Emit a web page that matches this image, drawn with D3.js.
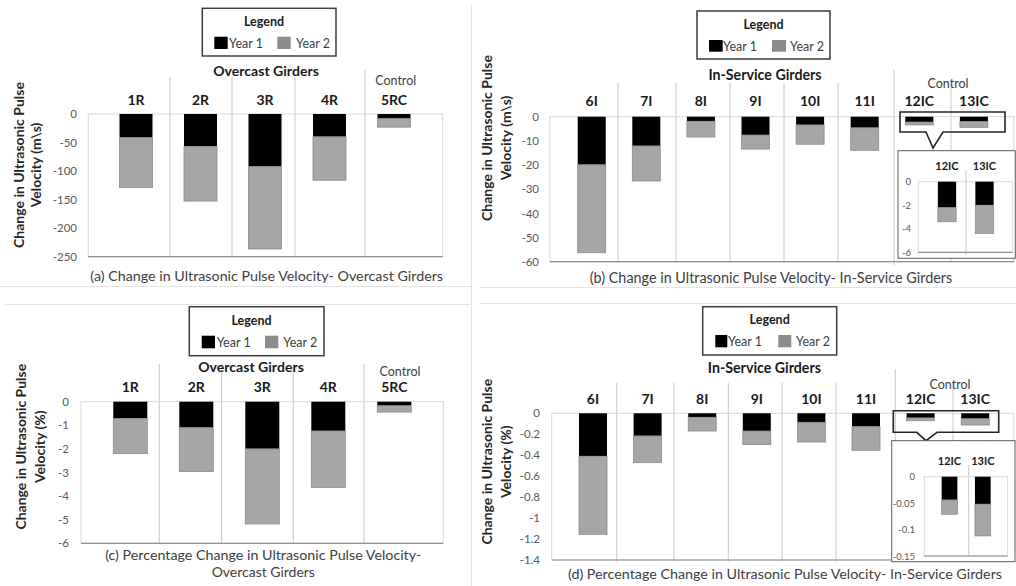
<!DOCTYPE html>
<html><head><meta charset="utf-8">
<script src="https://cdn.jsdelivr.net/npm/d3@7"></script>
<style>html,body{margin:0;padding:0;background:#fff;}svg{display:block;}</style>
</head><body>
<svg id="chart" width="1016" height="586"></svg>
<script>
// ---------------- DATA ----------------
const seriesNames = ["Year 1", "Year 2"];
const overcastCategories = ["1R", "2R", "3R", "4R", "5RC"];
const overcastUPVYear1 = [-41.5, -57, -92, -40, -8];
const overcastUPVYear2 = [-87.5, -95.5, -144.5, -76, -15];
const overcastPctYear1 = [-0.71, -1.1, -2.0, -1.24, -0.17];
const overcastPctYear2 = [-1.49, -1.86, -3.18, -2.39, -0.27];
const inServiceCategories = ["6I", "7I", "8I", "9I", "10I", "11I", "12IC", "13IC"];
const inServiceUPVYear1 = [-19.9, -12.1, -1.9, -7.6, -3.4, -4.6, -2.2, -2.0];
const inServiceUPVYear2 = [-36.4, -14.5, -6.5, -5.8, -8.0, -9.3, -1.2, -2.4];
const inServicePctYear1 = [-0.41, -0.216, -0.038, -0.169, -0.086, -0.127, -0.044, -0.052];
const inServicePctYear2 = [-0.745, -0.255, -0.131, -0.13, -0.188, -0.226, -0.027, -0.06];
const controlInServiceCategories = ["12IC", "13IC"];
const overcastUPVTicks = [0, -50, -100, -150, -200, -250];
const inServiceUPVTicks = [0, -10, -20, -30, -40, -50, -60];
const overcastPctTicks = [0, -1, -2, -3, -4, -5, -6];
const inServicePctTicks = [0, -0.2, -0.4, -0.6, -0.8, -1, -1.2, -1.4];
const insetUPVTicks = [0, -2, -4, -6];
const insetPctTicks = [0, -0.05, -0.1, -0.15];

// ---------------- STYLE ----------------
const FONT = "Lato, 'Open Sans', sans-serif";
const COLORS = ["#000000", "#a6a6a6"];
const SWATCH = ["#000000", "#8c8c8c"];
const svg = d3.select("#chart");

function fit(sel, w) {
  const L = sel.node().getComputedTextLength();
  const fs = parseFloat(sel.attr("font-size"));
  if (L > 0) sel.attr("font-size", fs * w / L);
  return sel;
}
function txt(g, s, x, y, size, opts = {}) {
  return g.append("text").attr("x", x).attr("y", y).text(s)
    .attr("font-family", FONT).attr("font-size", size)
    .attr("font-weight", opts.bold ? "bold" : "normal")
    .attr("fill", opts.fill || "#262626")
    .attr("text-anchor", opts.anchor || "middle")
    .attr("dominant-baseline", "central");
}

// faint panel separators
const sep = svg.append("g").attr("stroke", "#e4e4e4").attr("stroke-width", 1);
sep.append("line").attr("x1", 471.5).attr("x2", 471.5).attr("y1", 5).attr("y2", 586);
sep.append("line").attr("x1", 0).attr("x2", 471).attr("y1", 286.5).attr("y2", 286.5);
sep.append("line").attr("x1", 480).attr("x2", 1016).attr("y1", 287.5).attr("y2", 287.5);
sep.append("line").attr("x1", 5).attr("x2", 470).attr("y1", 304.5).attr("y2", 304.5);
sep.append("line").attr("x1", 480).attr("x2", 1016).attr("y1", 303.5).attr("y2", 303.5);

function drawBars(g, cats, y1, y2, x, y, bw) {
  const data = cats.map((c, i) => ({ cat: c, y1: y1[i], y2: y2[i] }));
  const stacked = d3.stack().keys(["y1", "y2"]).offset(d3.stackOffsetDiverging)(data);
  g.append("g").selectAll("g").data(stacked).join("g")
    .attr("fill", (d, i) => COLORS[i])
    .attr("stroke", (d, i) => i ? "#8a8a8a" : "none")
    .attr("stroke-width", 0.8)
    .selectAll("rect").data(d => d).join("rect")
    .attr("x", d => x(d.data.cat) + (x.step() - bw) / 2)
    .attr("width", bw)
    .attr("y", d => y(d[1]))
    .attr("height", d => y(d[0]) - y(d[1]));
}

function drawFrame(g, P) {
  g.append("rect").attr("x", P.l).attr("y", P.t).attr("width", P.r - P.l).attr("height", P.b - P.t)
    .attr("fill", "none").attr("stroke", "#d9d9d9").attr("stroke-width", 1);
  g.append("line").attr("x1", P.l).attr("x2", P.r).attr("y1", P.b).attr("y2", P.b)
    .attr("stroke", "#8c8c8c").attr("stroke-width", 1.2);
}

function drawAxis(g, y, ticks, P, tickRight, size) {
  const ax = g.append("g").attr("transform", `translate(${P.l},0)`)
    .call(d3.axisLeft(y).tickValues(ticks).tickSize(0).tickPadding(P.l - tickRight).tickFormat(d => String(d)));
  ax.select(".domain").remove();
  ax.selectAll("text").attr("font-family", FONT).attr("font-size", size).attr("fill", "#595959");
}

function drawPanel(cfg) {
  const g = svg.append("g");
  const P = cfg.plot;
  const y = d3.scaleLinear().domain([0, d3.min(cfg.ticks)]).range([P.t, P.b]);
  const x = d3.scaleBand().domain(cfg.cats).range(cfg.band);

  // header / column dividers
  cfg.dividers.forEach(dv => g.append("line").attr("x1", dv.x).attr("x2", dv.x)
    .attr("y1", dv.top).attr("y2", dv.bottom).attr("stroke", "#c8c8c8").attr("stroke-width", 1));

  drawFrame(g, P);
  drawAxis(g, y, cfg.ticks, P, cfg.tickRight, 11.5);
  drawBars(g, cfg.cats, cfg.y1, cfg.y2, x, y, cfg.bw);

  // category labels
  g.selectAll("text.cat").data(cfg.cats).join("text").attr("class", "cat")
    .attr("x", c => x(c) + x.step() / 2).attr("y", cfg.catY).text(c => c)
    .attr("font-family", FONT).attr("font-size", 14).attr("font-weight", "bold")
    .attr("fill", "#1a1a1a").attr("text-anchor", "middle").attr("dominant-baseline", "central");

  fit(txt(g, cfg.group.text, cfg.group.x, cfg.group.y, 14, { bold: true, fill: "#1a1a1a" }), cfg.group.w);
  txt(g, "Control", cfg.control.x, cfg.control.y, 12.5, { fill: "#404040" });

  // legend
  const L = cfg.legend;
  g.append("rect").attr("x", L.box[0]).attr("y", L.box[1]).attr("width", L.box[2] - L.box[0])
    .attr("height", L.box[3] - L.box[1]).attr("fill", "#fff").attr("stroke", "#3a3a3a").attr("stroke-width", 1.5);
  txt(g, "Legend", L.titleX, L.titleY, 12.5, { bold: true, fill: "#1a1a1a" });
  seriesNames.forEach((s, i) => {
    const sw = L.sw[i];
    g.append("rect").attr("x", sw[0]).attr("y", sw[1]).attr("width", sw[2]).attr("height", sw[3]).attr("fill", SWATCH[i]);
    txt(g, s, L.labX[i], L.rowY, 12.5, { anchor: "start", fill: "#404040" });
  });

  // y title
  const yt = g.append("text").attr("transform", `translate(${cfg.ytitle.x1},${cfg.ytitle.cy}) rotate(-90)`)
    .attr("font-family", FONT).attr("font-size", 13.5).attr("font-weight", "bold").attr("fill", "#262626")
    .attr("text-anchor", "middle").attr("dominant-baseline", "central").text("Change in Ultrasonic Pulse");
  fit(yt, cfg.ytitle.w1);
  g.append("text").attr("transform", `translate(${cfg.ytitle.x2},${cfg.ytitle.cy}) rotate(-90)`)
    .attr("font-family", FONT).attr("font-size", yt.attr("font-size")).attr("font-weight", "bold").attr("fill", "#262626")
    .attr("text-anchor", "middle").attr("dominant-baseline", "central").text(cfg.ytitle.line2);

  // caption
  cfg.caption.forEach(c => fit(txt(g, c.text, c.x, c.y, 14, { fill: "#404040" }), c.w));

  // callout + inset
  if (cfg.inset) {
    const C = cfg.callout;
    g.append("path").attr("d",
      `M${C.rect[0]},${C.rect[1]} H${C.rect[2]} V${C.rect[3]} H${C.notch[3]} L${C.notch[1]},${C.notch[2]} L${C.notch[0]},${C.rect[3]} H${C.rect[0]} Z`)
      .attr("fill", "none").attr("stroke", "#262626").attr("stroke-width", 1.6);
    const I = cfg.inset;
    const ig = g.append("g");
    ig.append("rect").attr("x", I.box[0]).attr("y", I.box[1]).attr("width", I.box[2] - I.box[0])
      .attr("height", I.box[3] - I.box[1]).attr("fill", "#fff").attr("stroke", "#595959").attr("stroke-width", 1);
    const IP = I.plot;
    const iy = d3.scaleLinear().domain([0, d3.min(I.ticks)]).range([IP.t, IP.b]);
    const ix = d3.scaleBand().domain(controlInServiceCategories).range(I.band);
    ig.append("line").attr("x1", I.div.x).attr("x2", I.div.x).attr("y1", I.div.top).attr("y2", I.div.bottom)
      .attr("stroke", "#c8c8c8");
    drawFrame(ig, IP);
    drawAxis(ig, iy, I.ticks, IP, I.tickRight, 9.5);
    const idx = controlInServiceCategories.map(c => cfg.cats.indexOf(c));
    drawBars(ig, controlInServiceCategories, idx.map(i => cfg.y1[i]), idx.map(i => cfg.y2[i]), ix, iy, I.bw);
    controlInServiceCategories.forEach(c => txt(ig, c, ix(c) + ix.step() / 2, I.labelY, 11, { bold: true, fill: "#1a1a1a" }));
  }
}

drawPanel({
  cats: overcastCategories, y1: overcastUPVYear1, y2: overcastUPVYear2, ticks: overcastUPVTicks,
  plot: { l: 88.3, t: 114, r: 442.7, b: 256.7 }, band: [103.75, 426.25], bw: 33, tickRight: 77,
  dividers: [{ x: 170, top: 77, bottom: 256 }, { x: 232, top: 77, bottom: 257 }, { x: 295, top: 77, bottom: 257 }, { x: 365, top: 70, bottom: 257 }],
  catY: 99, group: { text: "Overcast Girders", x: 266, y: 70.3, w: 105.7 }, control: { x: 395.7, y: 80 },
  legend: { box: [202.3, 8.3, 336, 56], titleX: 264, titleY: 21, rowY: 43,
    sw: [[214.3, 36.7, 13.4, 12.3], [277.3, 36.7, 13.4, 12.3]], labX: [229, 296] },
  ytitle: { x1: 18.3, x2: 35, cy: 165, w1: 166, line2: "Velocity (m\\s)" },
  caption: [{ text: "(a) Change in Ultrasonic Pulse Velocity- Overcast Girders", x: 266.7, y: 275.3, w: 353 }]
});

drawPanel({
  cats: inServiceCategories, y1: inServiceUPVYear1, y2: inServiceUPVYear2, ticks: inServiceUPVTicks,
  plot: { l: 550, t: 116.7, r: 1014, b: 261.7 }, band: [564.4, 1001.2], bw: 28, tickRight: 539,
  dividers: [618, 676, 730, 784, 838, 951].map(x => ({ x, top: 83, bottom: 263 })).concat([{ x: 894, top: 70, bottom: 265 }]),
  catY: 100, group: { text: "In-Service Girders", x: 765, y: 74, w: 113.3 }, control: { x: 948, y: 83.5 },
  legend: { box: [697, 11, 830, 59], titleX: 763.5, titleY: 24, rowY: 46,
    sw: [[709, 40, 13.7, 11.7], [772, 40, 14, 11.7]], labX: [723, 790] },
  ytitle: { x1: 486, x2: 505, cy: 138, w1: 166, line2: "Velocity (m\\s)" },
  caption: [{ text: "(b) Change in Ultrasonic Pulse Velocity- In-Service Girders", x: 771, y: 277, w: 362.7 }],
  callout: { rect: [900, 112, 1005, 132], notch: [926, 933, 148, 943] },
  inset: { box: [898, 150.7, 1015.3, 258.3], plot: { l: 918.3, t: 181.7, r: 1012.7, b: 252.3 },
    band: [928.25, 1003.25], bw: 18.3, ticks: insetUPVTicks, tickRight: 911, labelY: 165.7,
    div: { x: 966, top: 170.7, bottom: 255 } }
});

drawPanel({
  cats: overcastCategories, y1: overcastPctYear1, y2: overcastPctYear2, ticks: overcastPctTicks,
  plot: { l: 81, t: 401.7, r: 443.3, b: 543.3 }, band: [97.3, 427.3], bw: 34, tickRight: 69,
  dividers: [159.3, 221.7, 293.3, 364].map(x => ({ x, top: 364, bottom: 543 })),
  catY: 386.5, group: { text: "Overcast Girders", x: 251, y: 366.7, w: 105.7 }, control: { x: 400, y: 371 },
  legend: { box: [189.3, 306.7, 324, 355.7], titleX: 251.5, titleY: 320, rowY: 342,
    sw: [[201.7, 335.7, 13.3, 12.6], [265, 335.7, 13.3, 12.6]], labX: [216.7, 283.3] },
  ytitle: { x1: 20, x2: 39.3, cy: 446.7, w1: 166, line2: "Velocity (%)" },
  caption: [{ text: "(c) Percentage Change in Ultrasonic Pulse Velocity-", x: 263.3, y: 554.3, w: 316.7 },
            { text: "Overcast Girders", x: 263.3, y: 571.7, w: 103.3 }]
});

drawPanel({
  cats: inServiceCategories, y1: inServicePctYear1, y2: inServicePctYear2, ticks: inServicePctTicks,
  plot: { l: 551.7, t: 413.3, r: 1014, b: 560 }, band: [565.7, 1002.5], bw: 28, tickRight: 540,
  dividers: [616.7, 674, 728.3, 782, 836, 953].map(x => ({ x, top: 383, bottom: 561.7 })).concat([{ x: 895.3, top: 369, bottom: 562 }]),
  catY: 398.3, group: { text: "In-Service Girders", x: 764.4, y: 367.7, w: 113.3 }, control: { x: 950, y: 384.5 },
  legend: { box: [702.7, 306.7, 836.7, 355], titleX: 769.7, titleY: 319, rowY: 341,
    sw: [[715.3, 335, 12, 12.3], [778.3, 335, 13, 12.3]], labX: [728, 796] },
  ytitle: { x1: 486, x2: 505, cy: 461.7, w1: 166, line2: "Velocity (%)" },
  caption: [{ text: "(d) Percentage Change in Ultrasonic Pulse Velocity- In-Service Girders", x: 785, y: 573.3, w: 434.7 }],
  callout: { rect: [893.3, 410.7, 998.7, 432.3], notch: [916.7, 926, 440.7, 937] },
  inset: { box: [891.7, 440.7, 1015, 561.7], plot: { l: 924.3, t: 476.7, r: 1007.7, b: 556 },
    band: [932.85, 999.45], bw: 15.7, ticks: insetPctTicks, tickRight: 915, labelY: 460,
    div: { x: 968.7, top: 465, bottom: 556 } }
});
</script>
</body></html>
